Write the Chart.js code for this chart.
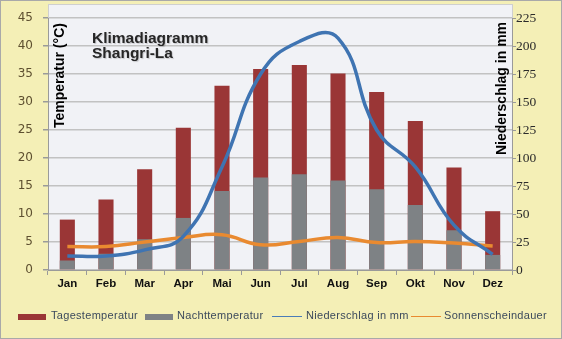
<!DOCTYPE html>
<html>
<head>
<meta charset="utf-8">
<script src="https://cdn.jsdelivr.net/npm/chart.js@4.4.1/dist/chart.umd.min.js"></script>
<style>
  html, body { margin: 0; padding: 0; background: #fff; }
  #wrap {
    position: relative; width: 560px; height: 337px;
    background: #f4efb6; border: 1px solid #a9a9a9;
  }
  #chart { position: absolute; left: -1px; top: -1px; }
  .lg { position: absolute; font: 11px "Liberation Sans", Arial, sans-serif; color: #3c4a5c; line-height: 13px; white-space: nowrap; letter-spacing: 0.3px; }
  .box { position: absolute; height: 6px; width: 28px; }
  .ln { position: absolute; height: 1px; width: 30px; }
</style>
</head>
<body>
<div id="wrap">
  <canvas id="chart" width="562" height="339"></canvas>
  <div class="box" style="left:17px;top:313px;background:#9a3636"></div>
  <div class="lg" style="left:50px;top:308px">Tagestemperatur</div>
  <div class="box" style="left:144px;top:313px;background:#7e8285"></div>
  <div class="lg" style="left:176px;top:308px">Nachttemperatur</div>
  <div class="ln" style="left:271px;top:315px;background:#4a7cb8"></div>
  <div class="lg" style="left:305px;top:308px">Niederschlag in mm</div>
  <div class="ln" style="left:410px;top:315px;background:#e98a30"></div>
  <div class="lg" style="left:443px;top:308px">Sonnenscheindauer</div>
</div>
<script>
document.addEventListener("DOMContentLoaded", () => {

    const months = ["Jan", "Feb", "Mar", "Apr", "Mai", "Jun", "Jul", "Aug", "Sep", "Okt", "Nov", "Dez"];
    const tagesTemp = [9.0, 12.6, 18.0, 25.4, 32.9, 35.9, 36.6, 35.1, 31.8, 26.6, 18.3, 10.5];
    const nachtTemp = [1.7, 2.9, 5.5, 9.3, 14.1, 16.5, 17.1, 16.0, 14.4, 11.6, 7.1, 2.7];
    const niederschlag = [12.5, 12.5, 18, 30, 92, 175, 204, 207, 125, 92, 40, 14];
    const sonnenschein = [4.2, 4.2, 5.0, 5.8, 6.3, 4.5, 5.1, 5.8, 4.9, 5.1, 4.8, 4.3];
    const tempTicks = { min: 0, max: 45, step: 5 };
    const rainTicks = { min: 0, max: 225, step: 25 };

    const gridColor = "#c2c2c2";

    // light plot background, reaching a bit above the top gridline
    const plotBg = {
        id: "plotBg",
        beforeDraw(chart) {
            const { ctx, chartArea: a } = chart;
            ctx.save();
            ctx.fillStyle = "#f1f2f6";
            ctx.fillRect(a.left, a.top - 14, a.right - a.left, a.bottom - a.top + 14);
            ctx.strokeStyle = "#cfcfcf";
            ctx.lineWidth = 1;
            ctx.strokeRect(a.left + 0.5, a.top - 13.5, a.right - a.left, a.bottom - a.top + 13);
            ctx.restore();
        }
    };

    // title block and the axis titles sitting inside the plot
    const labels = {
        id: "labels",
        afterDraw(chart) {
            const { ctx, chartArea: a } = chart;
            ctx.save();
            ctx.fillStyle = "#262626";
            ctx.shadowColor = "rgba(0,0,0,0.18)";
            ctx.shadowOffsetX = 1;
            ctx.shadowOffsetY = 1;
            ctx.shadowBlur = 1;
            ctx.font = "bold 15.5px 'Liberation Sans', Arial, sans-serif";
            ctx.textBaseline = "alphabetic";
            ctx.fillText("Klimadiagramm", 92, 43);
            ctx.fillText("Shangri-La", 92, 58);
            ctx.shadowColor = "transparent";

            ctx.fillStyle = "#000";
            ctx.font = "bold 14px 'Liberation Sans', Arial, sans-serif";
            ctx.translate(a.left + 16, a.top + 110);
            ctx.rotate(-Math.PI / 2);
            ctx.fillText("Temperatur (°C)", 0, 0);
            ctx.setTransform(1, 0, 0, 1, 0, 0);
            ctx.translate(a.right - 6, a.top + 137);
            ctx.rotate(-Math.PI / 2);
            ctx.fillText("Niederschlag in mm", 0, 0);
            ctx.restore();
        }
    };

    new Chart(document.getElementById("chart"), {
        type: "bar",
        data: {
            labels: months,
            datasets: [
                { type: "line", label: "Niederschlag in mm", data: niederschlag, yAxisID: "y1",
                  borderColor: "#3f74b2", borderWidth: 3.5, tension: 0.45, pointRadius: 0, order: 0 },
                { type: "line", label: "Sonnenscheindauer", data: sonnenschein, yAxisID: "y",
                  borderColor: "#e98a30", borderWidth: 3.5, tension: 0.45, pointRadius: 0, order: 0 },
                { label: "Nachttemperatur", data: nachtTemp, yAxisID: "y", backgroundColor: "#7e8285",
                  grouped: false, barPercentage: 0.39, categoryPercentage: 1, order: 1 },
                { label: "Tagestemperatur", data: tagesTemp, yAxisID: "y", backgroundColor: "#9a3636",
                  grouped: false, barPercentage: 0.39, categoryPercentage: 1, order: 2 }
            ]
        },
        options: {
            responsive: false,
            animation: false,
            layout: { padding: { top: 18, bottom: 49, left: 0, right: 0 } },
            plugins: { legend: { display: false }, tooltip: { enabled: false } },
            scales: {
                x: {
                    grid: { drawOnChartArea: false, tickLength: 5, color: "#9a9a9a" },
                    border: { color: "#9a9a9a" },
                    ticks: { color: "#111", padding: 2,
                             font: { family: "'Liberation Sans', Arial, sans-serif", size: 11.5, weight: "bold" } },
                    afterFit(s) { s.height = 20; }
                },
                y: {
                    position: "left",
                    min: tempTicks.min, max: tempTicks.max,
                    grid: { color: gridColor, lineWidth: 1.5, tickLength: 5, tickColor: "#9a9a9a" },
                    border: { color: "#9a9a9a" },
                    ticks: { stepSize: tempTicks.step, color: "#5e5030", padding: 10,
                             font: { family: "'DejaVu Sans', Verdana, sans-serif", size: 12 } },
                    afterFit(s) { s.width = 48; }
                },
                y1: {
                    position: "right",
                    min: rainTicks.min, max: rainTicks.max,
                    grid: { drawOnChartArea: false, tickLength: 4, color: "#9a9a9a" },
                    border: { color: "#9a9a9a" },
                    ticks: { stepSize: rainTicks.step, color: "#2b2b2b", padding: 0,
                             font: { family: "'Liberation Serif', 'Times New Roman', serif", size: 13.5 } },
                    afterFit(s) { s.width = 50; }
                }
            }
        },
        plugins: [plotBg, labels]
    });

});
</script>
</body>
</html>
